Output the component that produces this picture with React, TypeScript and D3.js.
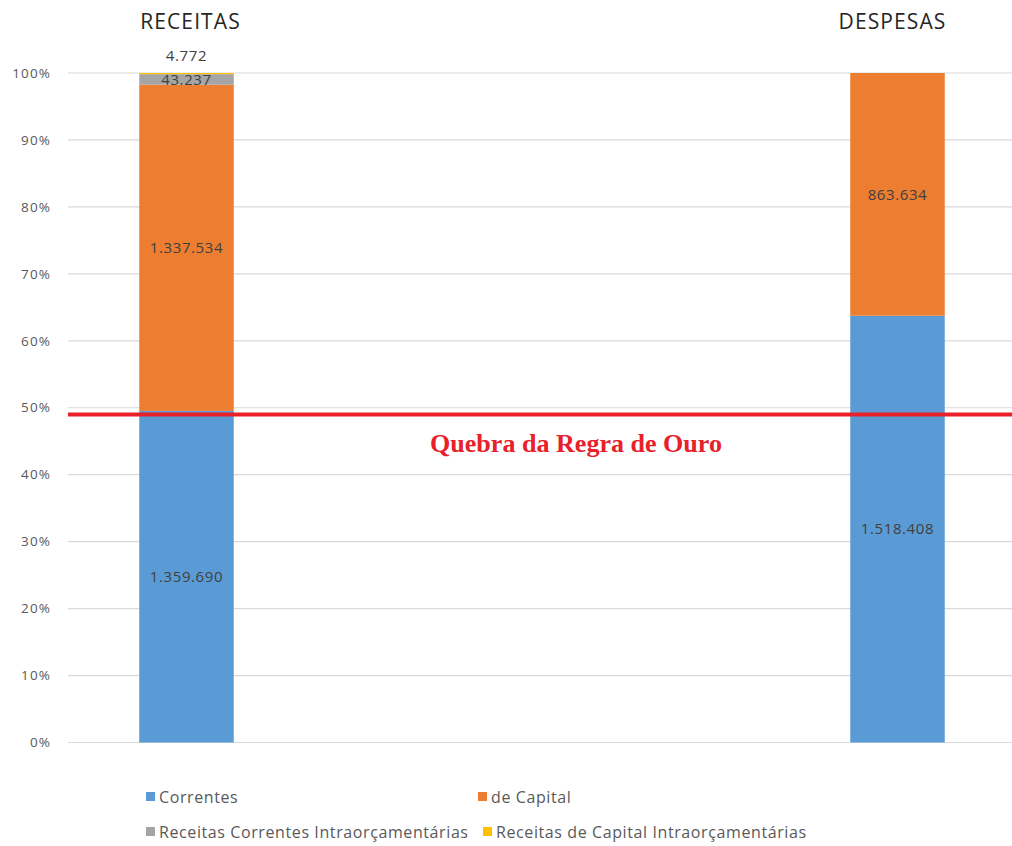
import React from "react";
import * as d3 from "d3";

// Budget composition, values in R$ millions
const categories = ["RECEITAS", "DESPESAS"];
const seriesNames = [
  "Correntes",
  "de Capital",
  "Receitas Correntes Intraorçamentárias",
  "Receitas de Capital Intraorçamentárias",
];
const correntes = [1359690, 1518408];
const deCapital = [1337534, 863634];
const intraCorrentes = [43237, 0];
const intraCapital = [4772, 0];
const yTicks = [0, 0.1, 0.2, 0.3, 0.4, 0.5, 0.6, 0.7, 0.8, 0.9, 1];
const ruleValue = 0.49;
const ruleLabel = "Quebra da Regra de Ouro";

const colors = ["#5B9BD5", "#ED7D31", "#A5A5A5", "#FFC000"];

const W = 1012;
const H = 846;
const plotLeft = 68;
const plotRight = 1012;
const plotTop = 73;
const plotBottom = 742.5;
const headerShift = [4, -5];

const fmt = (v: number) => d3.format(",")(v).replace(/,/g, ".");

export default function App() {
  const seriesValues = [correntes, deCapital, intraCorrentes, intraCapital];
  const rows = categories.map((c, i) => {
    const row: Record<string, number | string> = { cat: c };
    seriesNames.forEach((s, k) => (row[s] = seriesValues[k][i]));
    return row;
  });
  const stack = d3
    .stack<Record<string, number | string>>()
    .keys(seriesNames)
    .offset(d3.stackOffsetExpand);
  const layers = stack(rows as any);

  const x = d3
    .scaleBand<string>()
    .domain(categories)
    .range([plotLeft, plotRight])
    .paddingInner(0.86709)
    .paddingOuter(0.0974)
    .align(0.5144);
  const y = d3.scaleLinear().domain([0, 1]).range([plotBottom, plotTop]);

  const font = "'Open Sans', Lato, sans-serif";

  return (
    <svg
      width={W}
      height={H}
      style={{ position: "absolute", left: 0, top: 0, background: "#fff" }}
    >
      {/* gridlines and y tick labels */}
      {yTicks.map((t) => (
        <g key={t}>
          <line
            x1={plotLeft}
            x2={plotRight}
            y1={y(t)}
            y2={y(t)}
            stroke="#D9D9D9"
            strokeWidth={1.2}
          />
          <text
            x={51}
            y={y(t)}
            dy="0.35em"
            textAnchor="end"
            fontFamily={font}
            fontSize={13.5}
            letterSpacing={1.1}
            fill="#595959"
          >
            {`${Math.round(t * 100)}%`}
          </text>
        </g>
      ))}

      {/* stacked bars */}
      {layers.map((layer, k) => (
        <g key={layer.key} fill={colors[k]}>
          {layer.map((d, i) =>
            d[1] - d[0] > 0 ? (
              <rect
                key={i}
                x={x(categories[i])}
                width={x.bandwidth()}
                y={y(d[1])}
                height={y(d[0]) - y(d[1])}
              />
            ) : null
          )}
        </g>
      ))}

      {/* value labels */}
      {layers.map((layer, k) =>
        layer.map((d, i) => {
          const v = seriesValues[k][i];
          if (!v) return null;
          const cx = x(categories[i])! + x.bandwidth() / 2;
          let cy = y((d[0] + d[1]) / 2);
          if (k === 3) cy = y(d[1]) - 17;
          return (
            <text
              key={`${k}-${i}`}
              x={cx}
              y={cy}
              dy="0.35em"
              textAnchor="middle"
              fontFamily={font}
              fontSize={15}
              letterSpacing={0.6}
              fill="#404040"
            >
              {fmt(v)}
            </text>
          );
        })
      )}

      {/* category headers */}
      {categories.map((c, i) => (
        <text
          key={c}
          x={x(c)! + x.bandwidth() / 2 + headerShift[i]}
          y={29}
          textAnchor="middle"
          fontFamily={font}
          fontSize={21}
          letterSpacing={1.1}
          fill="#262626"
        >
          {c}
        </text>
      ))}

      {/* golden rule line */}
      <line
        x1={plotLeft}
        x2={W}
        y1={y(ruleValue)}
        y2={y(ruleValue)}
        stroke="#E8202A"
        strokeWidth={4}
      />
      <text
        x={576}
        y={452}
        textAnchor="middle"
        fontFamily="'Liberation Serif', 'DejaVu Serif', serif"
        fontWeight="bold"
        fontSize={26}
        fill="#E8202A"
        textLength={292}
        lengthAdjust="spacingAndGlyphs"
      >
        {ruleLabel}
      </text>

      {/* legend */}
      {seriesNames.map((s, k) => {
        const lx = [146, 478, 146, 483][k];
        const ly = [797, 797, 832, 832][k];
        return (
          <g key={s}>
            <rect x={lx} y={ly - 5} width={9} height={9} fill={colors[k]} />
            <text
              x={lx + 13}
              y={ly}
              dy="0.35em"
              fontFamily={font}
              fontSize={16}
              letterSpacing={0.6}
              fill="#595959"
            >
              {s}
            </text>
          </g>
        );
      })}
    </svg>
  );
}
